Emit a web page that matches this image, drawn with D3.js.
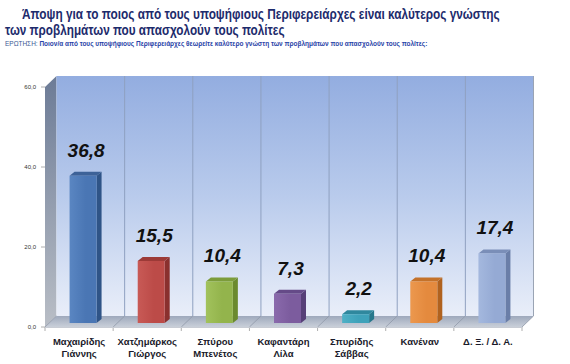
<!DOCTYPE html>
<html><head><meta charset="utf-8">
<script src="https://cdn.jsdelivr.net/npm/d3@7"></script>
<style>html,body{margin:0;padding:0;background:#fff;}svg{display:block;}</style>
</head><body>
<script>
const titleLines = ["Άποψη για το ποιος από τους υποψήφιους Περιφερειάρχες είναι καλύτερος γνώστης",
                    "των προβλημάτων που απασχολούν τους πολίτες"];
const questionLabel = "ΕΡΩΤΗΣΗ: ";
const questionText = "Ποιον/α από τους υποψήφιους Περιφερειάρχες θεωρείτε καλύτερο γνώστη των προβλημάτων που απασχολούν τους πολίτες:";
const categories = ["Μαχαιρίδης\nΓιάννης","Χατζημάρκος\nΓιώργος","Σπύρου\nΜπενέτος","Καφαντάρη\nΛίλα","Σπυρίδης\nΣάββας","Κανέναν","Δ. Ξ. / Δ. Α."];
const values = [36.8, 15.5, 10.4, 7.3, 2.2, 10.4, 17.4];
const yTicks = [0, 20, 40, 60];
const colors = [
  {front:"#4a76b4", light:"#5a86c2", side:"#2f5487", top:"#3d6298"},
  {front:"#bc4b48", light:"#c85a56", side:"#8a302e", top:"#9c3a37"},
  {front:"#93b44c", light:"#a2c25c", side:"#6b8a2e", top:"#7c9c3a"},
  {front:"#7c5c9e", light:"#8a6aac", side:"#574078", top:"#654a88"},
  {front:"#3ea2ba", light:"#4eb0c6", side:"#27788c", top:"#2f889e"},
  {front:"#e48a3e", light:"#ec984e", side:"#b0621f", top:"#c4722a"},
  {front:"#95aad4", light:"#a4b8de", side:"#6a7ea8", top:"#7a8eb8"}
];

const W = 570, H = 364;
const svg = d3.select("body").append("svg").attr("width", W).attr("height", H);
svg.append("rect").attr("width", W).attr("height", H).attr("fill", "#fff");

const defs = svg.append("defs");
function vgrad(id, stops){
  const g = defs.append("linearGradient").attr("id", id).attr("x1",0).attr("y1",0).attr("x2",0).attr("y2",1);
  stops.forEach(s => g.append("stop").attr("offset", s[0]).attr("stop-color", s[1]));
}
function hgrad(id, stops){
  const g = defs.append("linearGradient").attr("id", id).attr("x1",0).attr("y1",0).attr("x2",1).attr("y2",0);
  stops.forEach(s => g.append("stop").attr("offset", s[0]).attr("stop-color", s[1]));
}
vgrad("wall", [[0,"#93ade0"],[0.5,"#b9cbec"],[1,"#e9eef9"]]);
vgrad("side", [[0,"#6c7b96"],[1,"#b9bec6"]]);
vgrad("floor", [[0,"#9ea9bc"],[1,"#c9cfd9"]]);
colors.forEach((c,i) => hgrad("bar"+i, [[0,c.light],[0.6,c.front],[1,c.front]]));

// geometry
const x0 = 45, x1 = 522, yBase = 327;
const DX = 11.5, DY = -11;          // full depth offset
const x = d3.scaleBand().domain(d3.range(categories.length)).range([x0, x1]).paddingInner(0).paddingOuter(0);
const y = d3.scaleLinear().domain([0, 60]).range([yBase, yBase - 240]);

svg.append("path").attr("d", `M${x0},${y(0)} L${x0},${y(60)} L${x0+DX},${y(60)+DY} L${x0+DX},${y(0)+DY} Z`)
  .attr("fill", "url(#side)");
svg.append("rect").attr("x", x0+DX).attr("y", y(60)+DY).attr("width", x1-x0).attr("height", y(0)-y(60))
  .attr("fill", "url(#wall)");
svg.append("path").attr("d", `M${x0},${yBase} L${x1},${yBase} L${x1+DX},${yBase+DY} L${x0+DX},${yBase+DY} Z`)
  .attr("fill", "url(#floor)");

const bounds = d3.range(categories.length + 1).map(i => x0 + i * x.step());
bounds.forEach((b,i) => {
  if (i > 0) {
    svg.append("line").attr("x1", b+DX).attr("x2", b+DX).attr("y1", y(60)+DY).attr("y2", yBase+DY)
      .attr("stroke", i === categories.length ? "#9aa4b4" : "#8fa0c0").attr("stroke-width", 1);
  }
  svg.append("line").attr("x1", b).attr("y1", yBase).attr("x2", b+DX).attr("y2", yBase+DY)
    .attr("stroke", "#8f98a8").attr("stroke-width", 0.8);
  svg.append("line").attr("x1", b).attr("x2", b).attr("y1", yBase).attr("y2", yBase+4)
    .attr("stroke", "#9a9a9a").attr("stroke-width", 0.8);
});
svg.append("line").attr("x1", x0).attr("x2", x1).attr("y1", yBase+0.5).attr("y2", yBase+0.5).attr("stroke", "#c8ccd4");

const fmt = v => d3.format(".1f")(v).replace(".", ",");
yTicks.forEach(t => {
  svg.append("line").attr("x1", x0-4).attr("x2", x0).attr("y1", y(t)).attr("y2", y(t)).attr("stroke", "#999").attr("stroke-width", 0.8);
  svg.append("text").attr("x", x0-9).attr("y", y(t)).attr("dy", "0.35em").attr("text-anchor", "end")
    .attr("font-family", "Liberation Sans, Arial, sans-serif").attr("font-size", 6).attr("fill", "#333").text(fmt(t));
});

const fOff = {dx: 4, dy: -4};
const bDep = {dx: 5, dy: -4};
const bw = 27;
values.forEach((v,i) => {
  const cx = x(i) + x.bandwidth()/2 + fOff.dx;
  const left = cx - bw/2, right = cx + bw/2;
  const bottom = yBase + fOff.dy;
  const top = bottom - (y(0) - y(v));
  const g = svg.append("g");
  g.append("path").attr("d", `M${right},${bottom} L${right},${top} L${right+bDep.dx},${top+bDep.dy} L${right+bDep.dx},${bottom+bDep.dy} Z`)
    .attr("fill", colors[i].side);
  g.append("path").attr("d", `M${left},${top} L${right},${top} L${right+bDep.dx},${top+bDep.dy} L${left+bDep.dx},${top+bDep.dy} Z`)
    .attr("fill", colors[i].top);
  g.append("rect").attr("x", left).attr("y", top).attr("width", bw).attr("height", bottom - top)
    .attr("fill", `url(#bar${i})`);
  svg.append("text").attr("x", cx + 3).attr("y", top - 19).attr("text-anchor", "middle")
    .attr("font-family", "Liberation Sans, Arial, sans-serif").attr("font-weight", "bold").attr("font-style", "italic")
    .attr("font-size", 19).attr("fill", "#111").text(fmt(v));
});

categories.forEach((c,i) => {
  const cx = x(i) + x.bandwidth()/2;
  c.split("\n").forEach((ln, k) => {
    svg.append("text").attr("x", cx).attr("y", 345 + k*12).attr("text-anchor", "middle")
      .attr("font-family", "Liberation Sans, Arial, sans-serif").attr("font-weight", "bold")
      .attr("font-size", 9.5).attr("fill", "#1a1a2a").text(ln);
  });
});

// fitted text: horizontally scaled group so it spans the target width
function fitted(xp, yp, width, build){
  const g = svg.append("g");
  const t = g.append("text").attr("x", 0).attr("y", 0).attr("font-family", "Liberation Sans, Arial, sans-serif");
  build(t);
  const len = t.node().getComputedTextLength();
  g.attr("transform", `translate(${xp},${yp}) scale(${width/len},1)`);
}
fitted(22, 18.5, 478, t => t.attr("font-weight", "bold").attr("font-size", 14).attr("fill", "#1d2b6c").text(titleLines[0]));
fitted(5, 35, 280, t => t.attr("font-weight", "bold").attr("font-size", 14).attr("fill", "#1d2b6c").text(titleLines[1]));
fitted(5, 46, 423, t => {
  t.attr("font-size", 6.5);
  t.append("tspan").attr("fill", "#3c5a96").text(questionLabel);
  t.append("tspan").attr("fill", "#2a44a8").attr("font-weight", "bold").text(questionText);
});
</script>
</body></html>
